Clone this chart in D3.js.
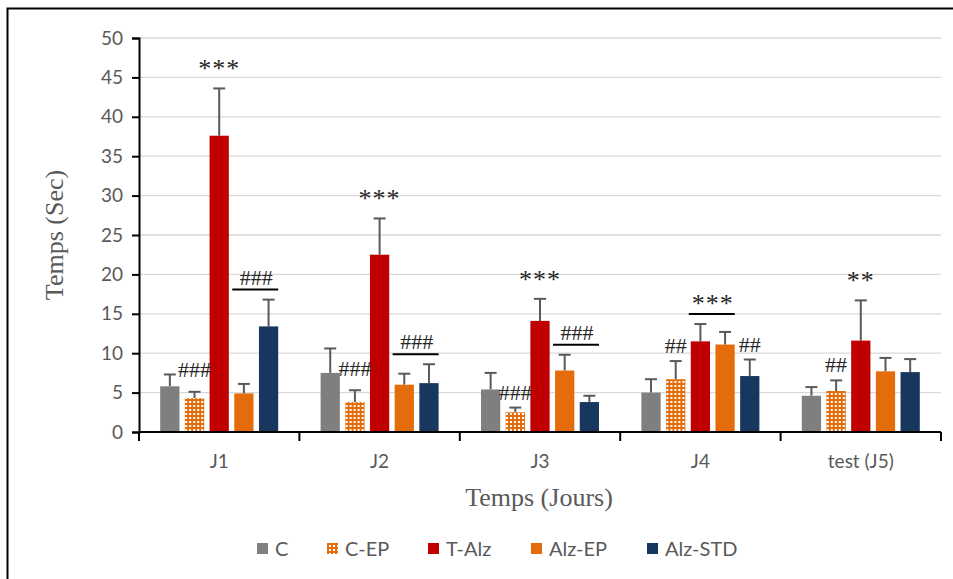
<!DOCTYPE html>
<html>
<head>
<meta charset="utf-8">
<script src="https://cdn.jsdelivr.net/npm/d3@7/dist/d3.min.js"></script>
<style>
  html, body { margin: 0; padding: 0; background: #fff; }
  svg { display: block; }
</style>
</head>
<body>
<svg id="chart" width="953" height="579"></svg>
<script>
// Days of the water-maze protocol
const days = ["J1", "J2", "J3", "J4", "test (J5)"];
const groups = ["C", "C-EP", "T-Alz", "Alz-EP", "Alz-STD"];

// Mean escape latency (s) per group, one array per group (order of days)
const meanC      = [5.8, 7.5, 5.4, 5.0, 4.6];
const meanCEP    = [4.3, 3.8, 2.5, 6.7, 5.2];
const meanTAlz   = [37.6, 22.5, 14.1, 11.5, 11.6];
const meanAlzEP  = [4.9, 6.0, 7.8, 11.1, 7.7];
const meanAlzSTD = [13.4, 6.2, 3.8, 7.1, 7.6];

// Upper error bar (SEM) per group
const errC      = [1.5, 3.1, 2.1, 1.7, 1.1];
const errCEP    = [0.8, 1.5, 0.6, 2.3, 1.35];
const errTAlz   = [6.0, 4.6, 2.8, 2.2, 5.1];
const errAlzEP  = [1.2, 1.4, 2.0, 1.6, 1.7];
const errAlzSTD = [3.4, 2.4, 0.8, 2.1, 1.65];

const yTicks = [0, 5, 10, 15, 20, 25, 30, 35, 40, 45, 50];

// Significance marks: [day, group(s), text, underlined across two groups]
const marks = [
  ["J1", "T-Alz", "***", false],
  ["J1", "C-EP", "###", false],
  ["J1", "Alz-EP/Alz-STD", "###", true],
  ["J2", "T-Alz", "***", false],
  ["J2", "C-EP", "###", false],
  ["J2", "Alz-EP/Alz-STD", "###", true],
  ["J3", "T-Alz", "***", false],
  ["J3", "C-EP", "###", false],
  ["J3", "Alz-EP/Alz-STD", "###", true],
  ["J4", "C-EP", "##", false],
  ["J4", "T-Alz/Alz-EP", "***", true],
  ["J4", "Alz-STD", "##", false],
  ["test (J5)", "T-Alz", "**", false],
  ["test (J5)", "C-EP", "##", false]
];

const means = [meanC, meanCEP, meanTAlz, meanAlzEP, meanAlzSTD];
const errs  = [errC, errCEP, errTAlz, errAlzEP, errAlzSTD];
const fills = ["#7f7f7f", "url(#dots)", "#c00000", "#e46c0a", "#17375e"];

const svg = d3.select("#chart");
const plotL = 139, plotR = 941, plotT = 38, plotB = 432;
const sans = "Lato, 'Liberation Sans', sans-serif";
const serif = "'Liberation Serif', 'DejaVu Serif', serif";

// C-EP fill: orange with a grid of small white squares
const defs = svg.append("defs");
const pat = defs.append("pattern").attr("id", "dots")
  .attr("patternUnits", "userSpaceOnUse").attr("width", 4).attr("height", 4);
pat.append("rect").attr("width", 4).attr("height", 4).attr("fill", "#e46c0a");
pat.append("rect").attr("x", 1).attr("y", 1).attr("width", 2).attr("height", 2).attr("fill", "#fff");

// Frame around the chart
svg.append("rect").attr("x", 7.5).attr("y", 8.5).attr("width", 960).attr("height", 600)
  .attr("fill", "none").attr("stroke", "#000").attr("stroke-width", 2);

const groupWidth = 118;
const x0 = d3.scaleBand().domain(days).range([plotL, plotR]);
const x1 = d3.scaleBand().domain(groups).range([0, groupWidth]).paddingInner(0.22);
const groupOffset = (x0.bandwidth() - groupWidth) / 2;
const y = d3.scaleLinear().domain([0, 50]).range([plotB, plotT]);

// Horizontal gridlines
svg.append("g").selectAll("line").data(yTicks.slice(1)).join("line")
  .attr("x1", plotL).attr("x2", plotR)
  .attr("y1", d => y(d)).attr("y2", d => y(d))
  .attr("stroke", "#d9d9d9").attr("stroke-width", 1.3);

// Y axis
const yAxis = svg.append("g").attr("transform", `translate(${plotL},0)`)
  .call(d3.axisLeft(y).tickValues(yTicks).tickSize(7).tickPadding(9));
yAxis.select(".domain").attr("stroke", "#000").attr("stroke-width", 2);
yAxis.selectAll(".tick line").attr("stroke", "#000").attr("stroke-width", 2);
yAxis.selectAll("text").attr("fill", "#595959")
  .style("font-family", sans).style("font-size", "19px");

// Bars with upper error bars
days.forEach((day, i) => {
  const g = svg.append("g").attr("transform", `translate(${x0(day) + groupOffset},0)`);
  groups.forEach((grp, k) => {
    const v = means[k][i], e = errs[k][i];
    const bx = x1(grp), bw = x1.bandwidth();
    const cx = bx + bw / 2;
    g.append("line").attr("x1", cx).attr("x2", cx)
      .attr("y1", y(v)).attr("y2", y(v + e))
      .attr("stroke", "#595959").attr("stroke-width", 2);
    g.append("line").attr("x1", cx - 6).attr("x2", cx + 6)
      .attr("y1", y(v + e)).attr("y2", y(v + e))
      .attr("stroke", "#595959").attr("stroke-width", 2);
    g.append("rect").attr("x", bx).attr("y", y(v))
      .attr("width", bw).attr("height", y(0) - y(v))
      .attr("fill", fills[k]);
  });
});

// X axis with ticks at category boundaries
const xg = svg.append("g");
xg.append("line").attr("x1", plotL).attr("x2", plotR).attr("y1", plotB).attr("y2", plotB)
  .attr("stroke", "#000").attr("stroke-width", 2);
const bounds = days.map(d => x0(d)).concat([plotR]);
xg.selectAll("line.tk").data(bounds).join("line").attr("class", "tk")
  .attr("x1", d => d).attr("x2", d => d).attr("y1", plotB).attr("y2", plotB + 9)
  .attr("stroke", "#000").attr("stroke-width", 2);
xg.selectAll("text").data(days).join("text")
  .attr("x", d => x0(d) + x0.bandwidth() / 2).attr("y", 468)
  .attr("text-anchor", "middle").attr("fill", "#595959")
  .style("font-family", sans).style("font-size", "19px")
  .text(d => d);

// Axis titles
svg.append("text").attr("x", 539).attr("y", 506).attr("text-anchor", "middle")
  .attr("fill", "#595959").style("font-family", serif).style("font-size", "26px")
  .text("Temps (Jours)");
svg.append("text").attr("transform", "translate(63,235) rotate(-90)").attr("text-anchor", "middle")
  .attr("fill", "#595959").style("font-family", serif).style("font-size", "26px")
  .text("Temps (Sec)");

// Significance marks
function barCenter(day, grp) {
  return x0(day) + groupOffset + x1(grp) + x1.bandwidth() / 2;
}
function barTop(day, grp) {
  const i = days.indexOf(day), k = groups.indexOf(grp);
  return y(means[k][i] + errs[k][i]);
}
// extra lift for the J1/J2 hashes so they clear the C error caps
const lift = { "J1|C-EP": 7, "J2|C-EP": 6 };
marks.forEach(([day, spec, txt, underline]) => {
  const sg = svg.append("g");
  const isStar = txt.startsWith("*");
  let cx, base;
  if (underline) {
    const [a, b] = spec.split("/");
    const xa = x0(day) + groupOffset + x1(a), xb = x0(day) + groupOffset + x1(b) + x1.bandwidth();
    cx = (xa + xb) / 2;
    const ly = Math.min(barTop(day, a), barTop(day, b)) - 10;
    sg.append("line").attr("x1", xa - 2).attr("x2", xb).attr("y1", ly).attr("y2", ly)
      .attr("stroke", "#000").attr("stroke-width", 2);
    base = isStar ? ly - 2 : ly - 5;
  } else if (isStar) {
    cx = barCenter(day, spec);
    base = barTop(day, spec) - 11;
  } else {
    cx = barCenter(day, spec);
    base = barTop(day, spec) - 8 - (lift[day + "|" + spec] || 0);
  }
  sg.append("text").attr("x", cx).attr("y", base)
    .attr("text-anchor", "middle").attr("fill", "#262626")
    .style("font-family", serif)
    .style("font-size", isStar ? "26px" : "22px")
    .style("letter-spacing", isStar ? "1px" : "0px")
    .text(txt);
});

// Legend
const legendX = [257, 327, 428, 531, 647];
const lg = svg.append("g");
groups.forEach((grp, k) => {
  lg.append("rect").attr("x", legendX[k]).attr("y", 543).attr("width", 11).attr("height", 11)
    .attr("fill", fills[k]);
  lg.append("text").attr("x", legendX[k] + 18).attr("y", 556)
    .attr("fill", "#595959").style("font-family", sans)
    .style("font-size", "20px").text(grp);
});
</script>
</body>
</html>
